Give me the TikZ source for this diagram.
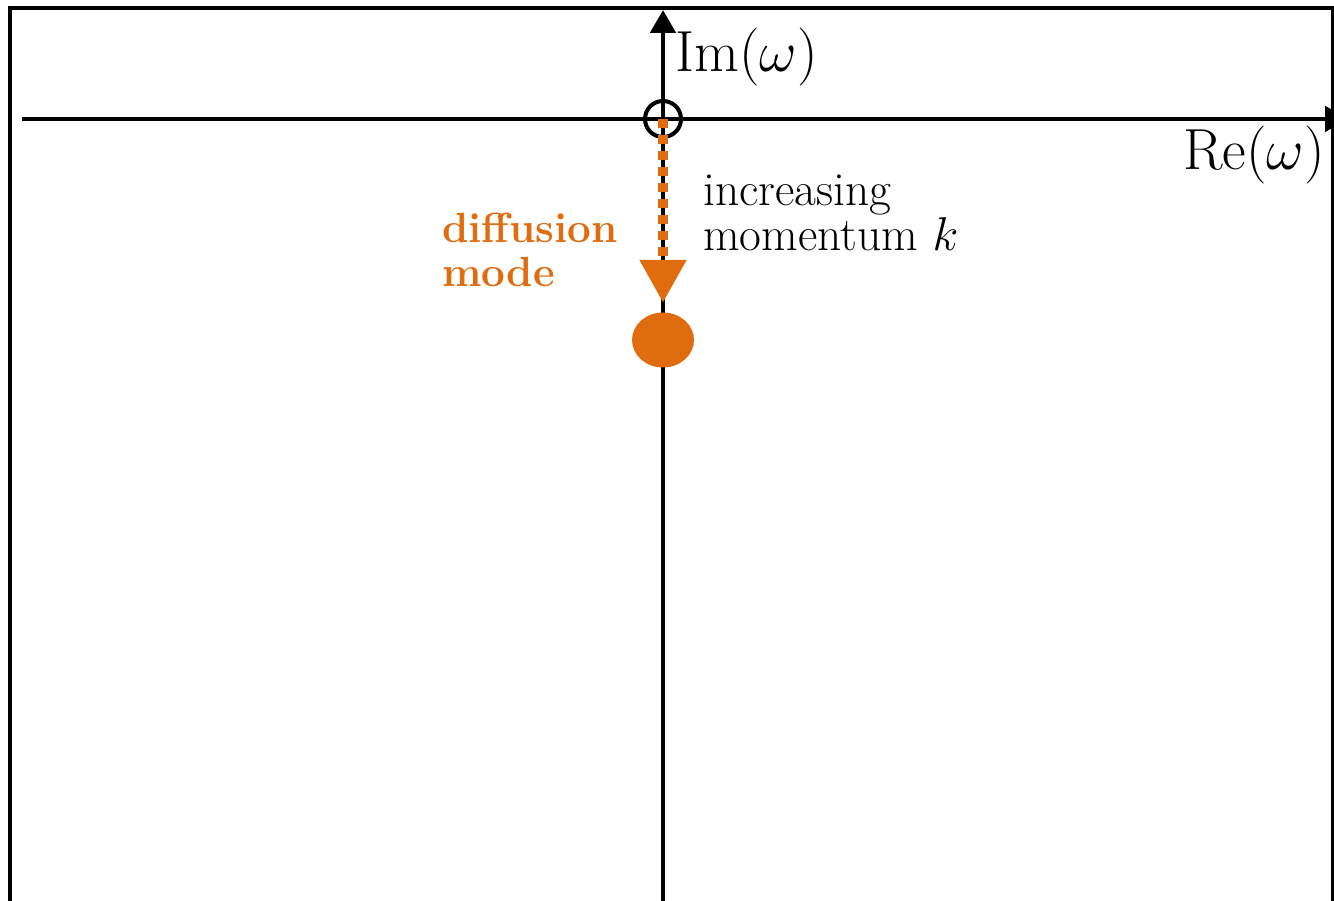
\RequirePackage{fix-cm}
\documentclass[tikz,border=0pt]{standalone}
\usepackage{tikz}
\usetikzlibrary{arrows.meta}
\usetikzlibrary{shapes.geometric}
\usepackage{xcolor}
\definecolor{modeorange}{RGB}{224,108,16}

\begin{document}
\begin{tikzpicture}[
    axis/.style={line width=2.8pt, -{Triangle[length=0.46cm,width=0.5cm]}},
    biglabel/.style={inner sep=0pt, font=\fontsize{33}{38}\selectfont},
    smalllabel/.style={inner sep=0pt, align=left, font=\fontsize{27}{26}\selectfont}
]
    \useasboundingbox (0,0) rectangle (26.68,18.02);

    % Frame, open at the bottom
    \draw[line width=2.3pt] (0.2,0) -- (0.2,17.86) -- (26.65,17.86) -- (26.65,0);

    % Axes
    \coordinate (xl) at (0.44,15.64);
    \coordinate (xr) at (26.96,15.64);
    \coordinate (yb) at (13.26,0);
    \coordinate (yt) at (13.26,17.82);
    \draw[axis, overlay] (xl) -- (xr);
    \draw[axis] (yb) -- (yt);

    % Origin and diffusion pole
    \node[draw, circle, line width=2.3pt, minimum size=0.72cm, inner sep=0pt] (O) at (13.26,15.64) {};
    \node[ellipse, fill=modeorange, minimum width=1.24cm, minimum height=1.1cm, inner sep=0pt] (D) at (13.26,11.22) {};
    \coordinate (tip) at (13.26,11.96);
    \draw[modeorange, line width=6pt, dash pattern=on 0.19cm off 0.13cm,
          -{Triangle[length=0.86cm,width=0.88cm]}] (O.center) -- (tip);

    % Labels
    \node[biglabel, anchor=west] (im) at (13.5,16.88) {Im$(\omega)$};
    \node[biglabel, anchor=east] (re) at (26.5,14.92) {Re$(\omega)$};
    \node[smalllabel, anchor=west] (incr) at (14.06,13.76) {increasing\\momentum $k$};
    \node[smalllabel, anchor=west, text=modeorange, font=\fontsize{24}{25}\selectfont\bfseries] (diff) at (8.84,13.02) {diffusion\\mode};
\end{tikzpicture}
\end{document}
